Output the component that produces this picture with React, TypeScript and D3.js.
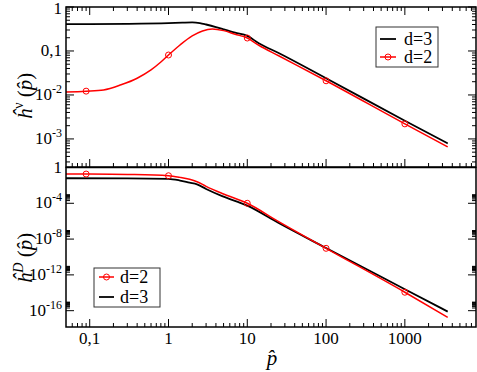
import * as d3 from "d3";
import React from "react";

// p-hat grid and curves
const topP3 = [0.05, 0.1, 0.3, 1, 1.5, 2, 2.5, 3, 4, 5, 7, 10, 14, 25, 100, 1000, 3500];
const topV3 = [0.41, 0.41, 0.415, 0.43, 0.44, 0.445, 0.43, 0.4, 0.35, 0.31, 0.26, 0.22, 0.15, 0.09, 0.024, 0.0026, 0.00079];
const topP2 = [0.05, 0.09, 0.15, 0.25, 0.4, 0.6, 0.8, 1, 1.4, 2, 2.7, 3.6, 5, 7, 10, 14, 25, 100, 1000, 3500];
const topV2 = [0.0117, 0.0122, 0.013, 0.017, 0.024, 0.037, 0.056, 0.081, 0.137, 0.22, 0.285, 0.315, 0.29, 0.24, 0.197, 0.135, 0.078, 0.021, 0.0022, 0.00066];

const botP2 = [0.05, 0.09, 0.3, 1, 1.4, 1.85, 2.3, 3, 4.8, 10, 25, 100, 1000, 3500];
const botV2 = [0.19, 0.186, 0.166, 0.12, 0.079, 0.048, 0.026, 0.0079, 0.00126, 1e-4, 8.9e-7, 9.3e-10, 1.15e-14, 1.8e-17];
const botP3 = [0.05, 0.3, 1, 1.4, 1.85, 2.3, 3, 4.8, 10, 25, 100, 1000, 3500];
const botV3 = [0.063, 0.062, 0.054, 0.035, 0.02, 0.013, 0.004, 6.3e-4, 5.4e-5, 6.3e-7, 1e-9, 2.5e-14, 7.9e-17];

const markerP = [0.09, 1, 10, 100, 1000];

const xMajor = [0.1, 1, 10, 100, 1000];
const xLabels = ["0,1", "1", "10", "100", "1000"];
const topMajor = [1, 0.1, 0.01, 0.001];
const topLabels = [["1", ""], ["0,1", ""], ["10", "-2"], ["10", "-3"]];
const botMajor = [1, 1e-4, 1e-8, 1e-12, 1e-16];
const botLabels = [["1", ""], ["10", "-4"], ["10", "-8"], ["10", "-12"], ["10", "-16"]];

const L = 66, R = 476;
const T1 = 7, B1 = 167, T2 = 167.5, B2 = 327;

const x = d3.scaleLog().domain([0.05, 8000]).range([L, R]);
const yTop = d3.scaleLog().domain([2.3e-4, 1]).range([B1, T1]);
const yBot = d3.scaleLog().domain([1.5e-18, 1]).range([B2, T2]);

const minorsOf = (majors: number[], dom: [number, number]) => {
  const out: number[] = [];
  majors.forEach((m) => {
    for (let k = 2; k <= 9; k++) {
      const v = m * k;
      if (v > dom[0] && v < dom[1]) out.push(v);
    }
  });
  return out;
};

const xMinor = minorsOf([0.01, ...xMajor], [0.05, 8000]);
const topMinor = minorsOf([1e-4, 1e-3, 0.01, 0.1], [2.3e-4, 1]);
const botMinor = minorsOf(botMajor.concat([1e-20]), [1.5e-18, 1]);

const pick = (ps: number[], vs: number[], p: number) => vs[ps.indexOf(p)];

const Panel = ({ y, top, bottom, majors, minors, labels, xTopTicks }: any) => {
  const els: any[] = [];
  xMajor.forEach((v, i) => {
    const px = x(v);
    if (xTopTicks) els.push(<line key={"xt" + i} x1={px} x2={px} y1={top} y2={top + 8} stroke="#000" />);
    els.push(<line key={"xb" + i} x1={px} x2={px} y1={bottom} y2={bottom - 8} stroke="#000" />);
  });
  xMinor.forEach((v, i) => {
    const px = x(v);
    if (xTopTicks) els.push(<line key={"xmt" + i} x1={px} x2={px} y1={top} y2={top + 4} stroke="#000" />);
    els.push(<line key={"xmb" + i} x1={px} x2={px} y1={bottom} y2={bottom - 4} stroke="#000" />);
  });
  majors.forEach((v: number, i: number) => {
    const py = y(v);
    els.push(<line key={"yl" + i} x1={L} x2={L + 8} y1={py} y2={py} stroke="#000" />);
    els.push(<line key={"yr" + i} x1={R} x2={R - 8} y1={py} y2={py} stroke="#000" />);
    const [base, sup] = labels[i];
    els.push(
      <text key={"lab" + i} x={62} y={Math.max(py + 5, 14)} textAnchor="end" fontSize={17} style={{ fontFamily: "Times" }}>
        {base}
        {sup ? <tspan fontSize={12} dy={-7}>{sup}</tspan> : null}
      </text>
    );
  });
  minors.forEach((v: number, i: number) => {
    const py = y(v);
    els.push(<line key={"yml" + i} x1={L} x2={L + 4} y1={py} y2={py} stroke="#000" />);
    els.push(<line key={"ymr" + i} x1={R} x2={R - 4} y1={py} y2={py} stroke="#000" />);
  });
  return <g>{els}</g>;
};

export default function App() {
  const lineTop = d3.line<[number, number]>().x((d) => x(d[0])).y((d) => yTop(d[1])).curve(d3.curveMonotoneX);
  const lineBot = d3.line<[number, number]>().x((d) => x(d[0])).y((d) => yBot(d[1])).curve(d3.curveMonotoneX);
  const zip = (a: number[], b: number[]) => a.map((p, i) => [p, b[i]] as [number, number]);
  const red = "#ff0000";

  return (
    <svg width={477} height={372} style={{ position: "absolute", left: 0, top: 0 }}>
      <defs>
        <clipPath id="c1"><rect x={L} y={T1} width={R - L} height={B1 - T1} /></clipPath>
        <clipPath id="c2"><rect x={L} y={T2} width={R - L} height={B2 - T2} /></clipPath>
      </defs>

      {/* top panel */}
      <g clipPath="url(#c1)">
        <path d={lineTop(zip(topP3, topV3)) || ""} fill="none" stroke="#000" strokeWidth={1.8} />
        <path d={lineTop(zip(topP2, topV2)) || ""} fill="none" stroke={red} strokeWidth={1.5} />
        {markerP.map((p) => (
          <circle key={p} cx={x(p)} cy={yTop(pick(topP2, topV2, p))} r={3} fill="none" stroke={red} strokeWidth={1} />
        ))}
      </g>
      <Panel y={yTop} top={T1} bottom={B1} majors={topMajor} minors={topMinor} labels={topLabels} xTopTicks={true} />
      <rect x={L} y={T1} width={R - L} height={B1 - T1} fill="none" stroke="#000" strokeWidth={1.5} />

      {/* bottom panel */}
      <g clipPath="url(#c2)">
        <path d={lineBot(zip(botP3, botV3)) || ""} fill="none" stroke="#000" strokeWidth={1.8} />
        <path d={lineBot(zip(botP2, botV2)) || ""} fill="none" stroke={red} strokeWidth={1.5} />
        {markerP.map((p) => (
          <circle key={p} cx={x(p)} cy={yBot(pick(botP2, botV2, p))} r={3} fill="none" stroke={red} strokeWidth={1} />
        ))}
      </g>
      <Panel y={yBot} top={T2} bottom={B2} majors={botMajor} minors={botMinor} labels={botLabels} xTopTicks={false} />
      <rect x={L} y={T2} width={R - L} height={B2 - T2} fill="none" stroke="#000" strokeWidth={1.5} />

      {/* x tick labels */}
      {xMajor.map((v, i) => (
        <text key={v} x={x(v)} y={344} textAnchor="middle" fontSize={17} style={{ fontFamily: "Times" }}>{xLabels[i]}</text>
      ))}
      <text x={272} y={365} textAnchor="middle" fontSize={21} fontStyle="italic" style={{ fontFamily: "Times" }}>p̂</text>

      {/* y axis titles */}
      <text transform="translate(32,96) rotate(-90)" textAnchor="middle" fontSize={21} style={{ fontFamily: "Times" }}>
        <tspan fontStyle="italic">ĥ</tspan>
        <tspan fontSize={14} dy={-9}>ν</tspan>
        <tspan dy={9}> (</tspan>
        <tspan fontStyle="italic">p̂</tspan>
        <tspan>)</tspan>
      </text>
      <text transform="translate(32,258) rotate(-90)" textAnchor="middle" fontSize={21} style={{ fontFamily: "Times" }}>
        <tspan fontStyle="italic">ĥ</tspan>
        <tspan fontSize={14} dy={-9} fontStyle="italic">D</tspan>
        <tspan dy={9}> (</tspan>
        <tspan fontStyle="italic">p̂</tspan>
        <tspan>)</tspan>
      </text>

      {/* legend top */}
      <rect x={376} y={27} width={62} height={40} fill="#fff" stroke="#333" strokeWidth={1} />
      <line x1={380} x2={396} y1={39} y2={39} stroke="#000" strokeWidth={1.8} />
      <text x={404} y={45} fontSize={18} style={{ fontFamily: "Times" }}>d=3</text>
      <line x1={380} x2={396} y1={57} y2={57} stroke={red} strokeWidth={1.5} />
      <circle cx={388} cy={57} r={3} fill="none" stroke={red} />
      <text x={404} y={63} fontSize={18} style={{ fontFamily: "Times" }}>d=2</text>

      {/* legend bottom */}
      <rect x={94} y={268} width={66} height={39} fill="#fff" stroke="#333" strokeWidth={1} />
      <line x1={99} x2={114} y1={277} y2={277} stroke={red} strokeWidth={1.5} />
      <circle cx={106.5} cy={277} r={3} fill="none" stroke={red} />
      <text x={120} y={283} fontSize={18} style={{ fontFamily: "Times" }}>d=2</text>
      <line x1={99} x2={114} y1={297} y2={297} stroke="#000" strokeWidth={1.8} />
      <text x={120} y={303} fontSize={18} style={{ fontFamily: "Times" }}>d=3</text>
    </svg>
  );
}
